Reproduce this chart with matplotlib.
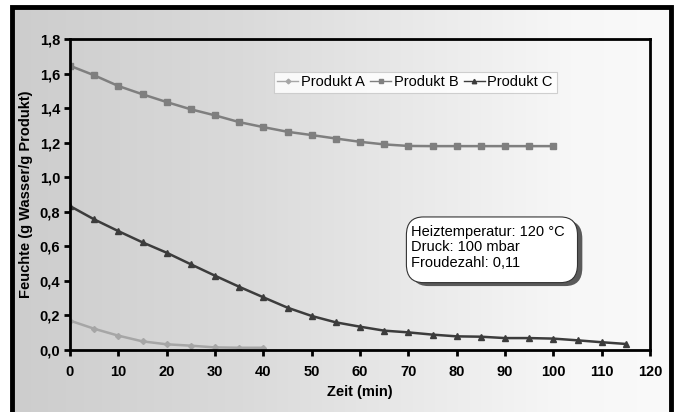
import numpy as np
import matplotlib
matplotlib.use("Agg")
import matplotlib.pyplot as plt
from matplotlib.patches import Rectangle, FancyBboxPatch
from matplotlib.colors import LinearSegmentedColormap

plt.rcParams['font.family'] = ['Liberation Sans', 'DejaVu Sans']

# Zeit in min
zeit_a = [0, 5, 10, 15, 20, 25, 30, 35, 40]
zeit_b = list(range(0, 105, 5))
zeit_c = list(range(0, 120, 5))

# Feuchte (g Wasser / g Produkt)
feuchte_a = [0.17, 0.123, 0.083, 0.05, 0.033, 0.025, 0.015, 0.013, 0.013]
feuchte_b = [1.645, 1.59, 1.528, 1.48, 1.435, 1.393, 1.358, 1.319, 1.29, 1.263,
             1.244, 1.224, 1.205, 1.19, 1.181, 1.18, 1.18, 1.18, 1.18, 1.18, 1.18]
feuchte_c = [0.833, 0.756, 0.688, 0.623, 0.563, 0.496, 0.43, 0.366, 0.305, 0.245,
             0.197, 0.16, 0.135, 0.112, 0.102, 0.089, 0.079, 0.077, 0.069, 0.069,
             0.066, 0.056, 0.045, 0.035]

x_ticks = list(range(0, 130, 10))
y_ticks = [0.0, 0.2, 0.4, 0.6, 0.8, 1.0, 1.2, 1.4, 1.6, 1.8]

fig = plt.figure(figsize=(6.77, 4.12), dpi=100)
fig.patch.set_facecolor('white')

# gradient background inside the frame
x0, y0, w, h = 12 / 677, 0.0, 659 / 677, 405 / 412
bg = fig.add_axes([x0, y0, w, h], zorder=-10)
grad = np.linspace(0, 1, 256).reshape(1, -1)
cmap = LinearSegmentedColormap.from_list('g', [(0, '#cdcdcd'), (0.35, '#dadada'), (0.85, '#f7f7f7'), (1, '#fafafa')])
bg.imshow(grad, aspect='auto', cmap=cmap, extent=[0, 1, 0, 1])
bg.set_axis_off()
fig.patches.append(Rectangle((x0, -0.02), w, h + 0.02, transform=fig.transFigure,
                             fill=False, edgecolor='black', linewidth=3.5))

ax = fig.add_axes([70 / 677, 62 / 412, 580 / 677, 311 / 412])
ax.patch.set_alpha(0)

ax.plot(zeit_a, feuchte_a, color='#a6a6a6', marker='D', markersize=3, linewidth=1.8, label='Produkt A')
ax.plot(zeit_b, feuchte_b, color='#7f7f7f', marker='s', markersize=4, linewidth=1.8, label='Produkt B')
ax.plot(zeit_c, feuchte_c, color='#3c3c3c', marker='^', markersize=4, linewidth=1.8, label='Produkt C')

ax.set_xlim(0, 120)
ax.set_ylim(0, 1.8)
ax.set_xticks(x_ticks)
ax.set_yticks(y_ticks)
ax.set_yticklabels([f"{v:.1f}".replace('.', ',') for v in y_ticks])
ax.tick_params(direction='out', length=4, width=2, labelsize=10.5)
ax.tick_params(axis='x', pad=7)
ax.tick_params(axis='y', pad=3)
for lbl in ax.get_xticklabels() + ax.get_yticklabels():
    lbl.set_fontweight('bold')
for s in ax.spines.values():
    s.set_linewidth(2)

ax.set_xlabel('Zeit (min)', fontsize=10.5, fontweight='bold', labelpad=4)
ax.set_ylabel('Feuchte (g Wasser/g Produkt)', fontsize=10.5, fontweight='bold', labelpad=5)

leg = ax.legend(loc='center', bbox_to_anchor=(0.595, 0.861), ncol=3, fontsize=10.5,
                handlelength=1.4, columnspacing=0.4, handletextpad=0.2,
                borderpad=0.25, fancybox=False, framealpha=0.85, markerscale=0.8)
leg.get_frame().set_edgecolor('#c8c8c8')
leg.get_frame().set_linewidth(0.8)
for line in leg.get_lines():
    line.set_linewidth(1.0)

# info box with shadow
info = 'Heiztemperatur: 120 °C\nDruck: 100 mbar\nFroudezahl: 0,11'
shadow = FancyBboxPatch((70.6, 0.37), 35.4, 0.38, boxstyle='round,pad=0,rounding_size=3.5',
                        mutation_aspect=0.03, facecolor='#5a5a5a', edgecolor='none', zorder=4)
box = FancyBboxPatch((69.6, 0.39), 35.4, 0.38, boxstyle='round,pad=0,rounding_size=3.5',
                     mutation_aspect=0.03, facecolor='white', edgecolor='#333333', linewidth=0.8, zorder=5)
ax.add_patch(shadow)
ax.add_patch(box)
ax.text(70.6, 0.725, info, fontsize=10.5, va='top', ha='left', color='black', linespacing=1.15, zorder=6)

fig.savefig('out.png', dpi=100)
